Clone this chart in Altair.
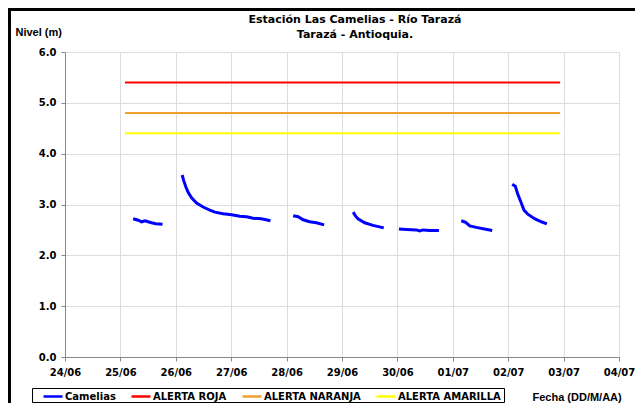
import altair as alt
import pandas as pd

# ---- Data ----
cam_time = [
    # segment 1 (25/06)
    "2011-06-25T05:30:00Z", "2011-06-25T07:45:00Z", "2011-06-25T09:10:00Z", "2011-06-25T10:40:00Z",
    "2011-06-25T12:00:00Z", "2011-06-25T13:30:00Z", "2011-06-25T15:20:00Z", "2011-06-25T18:15:00Z",
    # segment 2 (26/06 - 27/06)
    "2011-06-26T02:45:00Z", "2011-06-26T03:30:00Z", "2011-06-26T04:20:00Z", "2011-06-26T05:20:00Z",
    "2011-06-26T06:50:00Z", "2011-06-26T09:00:00Z", "2011-06-26T11:50:00Z", "2011-06-26T14:45:00Z",
    "2011-06-26T16:55:00Z", "2011-06-26T20:30:00Z", "2011-06-27T00:10:00Z", "2011-06-27T03:45:00Z",
    "2011-06-27T06:40:00Z", "2011-06-27T09:30:00Z", "2011-06-27T13:05:00Z", "2011-06-27T17:00:00Z",
    # segment 3 (28/06)
    "2011-06-28T02:50:00Z", "2011-06-28T05:00:00Z", "2011-06-28T07:10:00Z", "2011-06-28T10:00:00Z",
    "2011-06-28T12:55:00Z", "2011-06-28T16:15:00Z",
    # segment 4 (29/06)
    "2011-06-29T04:50:00Z", "2011-06-29T05:55:00Z", "2011-06-29T06:55:00Z", "2011-06-29T09:50:00Z",
    "2011-06-29T13:25:00Z", "2011-06-29T18:05:00Z",
    # segment 5 (30/06)
    "2011-06-30T00:40:00Z", "2011-06-30T03:55:00Z", "2011-06-30T08:15:00Z", "2011-06-30T09:40:00Z",
    "2011-06-30T11:05:00Z", "2011-06-30T14:00:00Z", "2011-06-30T18:00:00Z",
    # segment 6 (01/07)
    "2011-07-01T03:40:00Z", "2011-07-01T05:35:00Z", "2011-07-01T07:20:00Z", "2011-07-01T10:10:00Z",
    "2011-07-01T13:45:00Z", "2011-07-01T17:05:00Z",
    # segment 7 (02/07)
    "2011-07-02T01:45:00Z", "2011-07-02T03:05:00Z", "2011-07-02T04:10:00Z", "2011-07-02T05:40:00Z",
    "2011-07-02T06:50:00Z", "2011-07-02T08:30:00Z", "2011-07-02T11:25:00Z", "2011-07-02T14:20:00Z",
    "2011-07-02T16:45:00Z",
]
cam_level = [
    2.72, 2.69, 2.66, 2.68, 2.66, 2.64, 2.62, 2.61,
    3.58, 3.46, 3.35, 3.24, 3.13, 3.03, 2.95, 2.89, 2.85, 2.82, 2.80, 2.77, 2.76, 2.73, 2.72, 2.68,
    2.78, 2.76, 2.70, 2.66, 2.64, 2.60,
    2.85, 2.77, 2.72, 2.64, 2.59, 2.54,
    2.52, 2.51, 2.50, 2.48, 2.50, 2.49, 2.49,
    2.68, 2.65, 2.58, 2.55, 2.52, 2.49,
    3.40, 3.36, 3.20, 3.03, 2.89, 2.81, 2.72, 2.66, 2.62,
]
cam_seg = [1] * 8 + [2] * 16 + [3] * 6 + [4] * 6 + [5] * 7 + [6] * 6 + [7] * 9

alert_names = ["ALERTA ROJA", "ALERTA NARANJA", "ALERTA AMARILLA"]
alert_levels = [5.4, 4.8, 4.4]
alert_start = "2011-06-25T02:00:00Z"
alert_end = "2011-07-02T22:30:00Z"

series_names = ["Camelias", "ALERTA ROJA", "ALERTA NARANJA", "ALERTA AMARILLA"]
series_colors = ["#0000ff", "#ff0000", "#f0a030", "#ffff00"]

y_grid_values = [0.0, 0.5, 1.0, 1.5, 2.0, 2.5, 3.0, 3.5, 4.0, 4.5, 5.0, 5.5, 6.0]
x_days = [(2011, 6, d) for d in range(24, 31)] + [(2011, 7, d) for d in range(1, 5)]

FONT = "DejaVu Sans"

# ---- Tables ----
cam_df = pd.DataFrame({"fecha": cam_time, "nivel": cam_level,
                       "seg": cam_seg, "serie": ["Camelias"] * len(cam_time)})
alert_rows = []
for n, v in zip(alert_names, alert_levels):
    alert_rows.append({"fecha": alert_start, "nivel": v, "serie": n})
    alert_rows.append({"fecha": alert_end, "nivel": v, "serie": n})
alert_df = pd.DataFrame(alert_rows)

x_scale = alt.Scale(type="utc",
                    domain=[alt.DateTime(year=2011, month=6, date=24, utc=True),
                            alt.DateTime(year=2011, month=7, date=4, utc=True)])
y_scale = alt.Scale(domain=[0, 6])

x_enc = alt.X("fecha:T", scale=x_scale,
              axis=alt.Axis(values=[alt.DateTime(year=y, month=m, date=d, utc=True) for (y, m, d) in x_days],
                            format="%d/%m", title="Fecha (DD/M/AA)",
                            titleX=467, titleY=40, titleAlign="left", titleBaseline="middle",
                            labelPadding=6, tickSize=4, labelFlush=False, labelOverlap=False,
                            labelFontWeight="bold", labelFont=FONT, labelFontSize=10))
y_enc = alt.Y("nivel:Q", scale=y_scale,
              axis=alt.Axis(values=y_grid_values,
                            labelExpr="datum.value % 1 == 0 ? format(datum.value, '.1f') : ''",
                            tickOpacity={"condition": {"test": "datum.value % 1 == 0", "value": 1}, "value": 0},
                            title="Nivel (m)", titleAngle=0, titleX=-50, titleY=-20,
                            titleAlign="left", titleBaseline="middle",
                            labelPadding=5, tickSize=4, labelFlush=False, labelOverlap=False,
                            labelFontWeight="bold", labelFont=FONT, labelFontSize=10))
color_enc = alt.Color("serie:N",
                      scale=alt.Scale(domain=series_names, range=series_colors),
                      sort=series_names,
                      legend=alt.Legend(title=None, orient="none", direction="horizontal",
                                        legendX=-23, legendY=333.5, symbolType="stroke",
                                        symbolSize=361, symbolStrokeWidth=2.5,
                                        labelFont=FONT, labelFontSize=10, labelFontWeight="bold",
                                        labelColor="#000000", labelOffset=1, columnPadding=10,
                                        labelLimit=300, padding=0))

alerts = alt.Chart(alert_df).mark_line(strokeWidth=2, clip=False).encode(
    x=x_enc, y=y_enc, color=color_enc)
camelias = alt.Chart(cam_df).mark_line(strokeWidth=3).encode(
    x="fecha:T", y="nivel:Q", color=alt.Color("serie:N"), detail="seg:N")

one_row = pd.DataFrame({"k": [0]})
frame = alt.Chart(one_row).mark_rect(
    fillOpacity=0, stroke="#000000", strokeWidth=3).encode(
    x=alt.value(-55.5), x2=alt.value(700), y=alt.value(-42.5), y2=alt.value(500))
legend_box = alt.Chart(one_row).mark_rect(
    fill="#ffffff", stroke="#000000", strokeWidth=1).encode(
    x=alt.value(-32.5), x2=alt.value(439.5), y=alt.value(336.5), y2=alt.value(350.5))

chart = alt.layer(frame, legend_box, alerts, camelias).properties(
    width=554, height=305,
    autosize=alt.AutoSizeParams(type="none"),
    padding={"left": 57, "top": 44, "right": 16, "bottom": 46},
    title=alt.TitleParams(["Estación Las Camelias - Río Tarazá", "Tarazá - Antioquia."],
                          anchor="middle", dx=13, offset=-32, lineHeight=15,
                          font=FONT, fontSize=11, fontWeight="bold", color="#000000"),
).configure_view(stroke="#808080", strokeWidth=1.5).configure_axis(
    labelFont=FONT, labelFontSize=10, labelFontWeight="bold", labelColor="#000000",
    titleFont=FONT, titleFontSize=12, titleFontWeight="bold", titleColor="#000000",
    domainColor="#000000", domainWidth=1.2, tickColor="#000000",
    gridColor="#c4c4c4", gridWidth=1,
).configure(background="#ffffff")

chart.save("out.html", embed_options={"renderer": "svg", "actions": False})
